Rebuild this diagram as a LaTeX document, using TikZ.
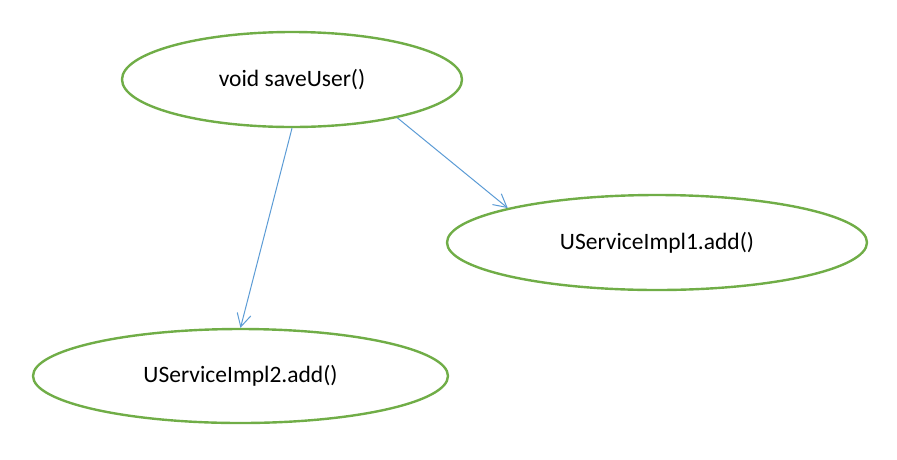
\documentclass[tikz,border=0pt]{standalone}
\usepackage{fontspec}
\setmainfont{Carlito}
\usetikzlibrary{shapes.geometric,arrows.meta}
\definecolor{ellgreen}{HTML}{70AD47}
\definecolor{arrblue}{HTML}{5B9BD5}
\begin{document}
\begin{tikzpicture}[x=1pt,y=-1pt,
  oval/.style={ellipse,draw=ellgreen,line width=2.4pt,inner sep=0pt,font=\fontsize{23.5}{27}\selectfont},
  link/.style={draw=arrblue,line width=1pt,-{Straight Barb[length=13pt,width=14pt]}}]
\useasboundingbox (0,0) rectangle (897,459);
\node[oval,minimum width=340pt,minimum height=95pt] (a) at (292,79.5) {void saveUser()};
\node[oval,minimum width=420pt,minimum height=95pt] (b) at (657,242.5) {UServiceImpl1.add()};
\node[oval,minimum width=415pt,minimum height=94pt] (c) at (240.5,376) {UServiceImpl2.add()};
\draw[link] (a.south) -- (c.north);
\draw[link] (a.-20) -- (b.167);
\end{tikzpicture}
\end{document}
